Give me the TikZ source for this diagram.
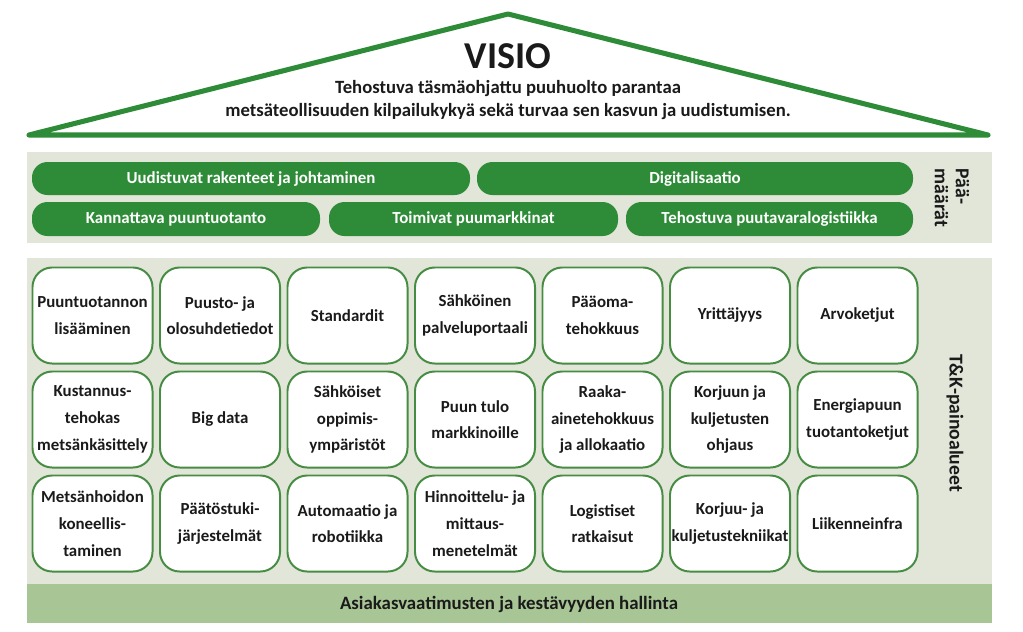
\documentclass[tikz,border=0pt]{standalone}
\usepackage{fontspec}
\setmainfont{Carlito}
\usepackage{tikz}
\usetikzlibrary{positioning}
\definecolor{leafgreen}{RGB}{46,140,56}
\definecolor{boxgreen}{RGB}{70,140,66}
\definecolor{panelgray}{RGB}{225,230,217}
\definecolor{basegreen}{RGB}{168,197,149}
\definecolor{inkdark}{RGB}{26,26,26}

\tikzset{
  goalbar/.style={fill=leafgreen, draw=none, rounded corners=11pt, text=white,
    font=\fontsize{12}{13}\selectfont\bfseries, inner sep=0pt, text height=0.66em, text depth=0pt},
  areabox/.style={fill=white, draw=boxgreen, line width=1.4pt, rounded corners=14pt,
    minimum width=3.0cm, minimum height=2.4cm, inner sep=1pt, align=center,
    text=inkdark, font=\fontsize{12}{19}\selectfont\bfseries},
  sidelabel/.style={rotate=-90, text=inkdark, font=\fontsize{14}{15}\selectfont\bfseries}
}

\begin{document}
\begin{tikzpicture}[x=0.025cm, y=-0.025cm]
\useasboundingbox (0,0) rectangle (1023,631);

% katto
\coordinate (roofL) at (29,135);
\coordinate (apex) at (508,14);
\coordinate (roofR) at (988,135);
\draw[leafgreen, line width=3.6pt, line join=round] (roofL) -- (apex) -- (roofR) -- cycle;
\node[font=\fontsize{27}{30}\selectfont\bfseries, text=inkdark] (visio) at (508,56) {VISIO};
\node[font=\fontsize{13.3}{17}\selectfont\bfseries, text=inkdark, align=center] (vision) at (508,100)
  {Tehostuva täsmäohjattu puuhuolto parantaa\\metsäteollisuuden kilpailukykyä sekä turvaa sen kasvun ja uudistumisen.};

% päämäärät
\fill[panelgray] (27,152) rectangle (992,243);
\node[goalbar, minimum width=438*0.025cm, minimum height=33*0.025cm] (g1) at (251,178.5) {Uudistuvat rakenteet ja johtaminen};
\node[goalbar, minimum width=436*0.025cm, minimum height=33*0.025cm] (g2) at (695,178.5) {Digitalisaatio};
\node[goalbar, minimum width=288*0.025cm, minimum height=34*0.025cm] (g3) at (176,219) {Kannattava puuntuotanto};
\node[goalbar, minimum width=289*0.025cm, minimum height=34*0.025cm] (g4) at (473.5,219) {Toimivat puumarkkinat};
\node[goalbar, minimum width=287*0.025cm, minimum height=34*0.025cm] (g5) at (769.5,219) {Tehostuva puutavaralogistiikka};
\node[sidelabel, align=left] (goals) at (952,198) {Pää-\\määrät};

% T&K-painoalueet
\fill[panelgray] (27,258) rectangle (992,584);
\foreach \c/\t in {1/{Puuntuotannon\\lisääminen}, 2/{Puusto- ja\\olosuhdetiedot}, 3/{Standardit},
                   4/{Sähköinen\\palveluportaali}, 5/{Pääoma-\\tehokkuus}, 6/{Yrittäjyys}, 7/{Arvoketjut}}{
  \pgfmathsetmacro{\x}{92.5+127.5*(\c-1)}
  \node[areabox] (r1c\c) at (\x,315.5) {\t};
}
\foreach \c/\t in {1/{Kustannus-\\tehokas\\metsänkäsittely}, 2/{Big data}, 3/{Sähköiset\\oppimis-\\ympäristöt},
                   4/{Puun tulo\\markkinoille}, 5/{Raaka-\\ainetehokkuus\\ja allokaatio},
                   6/{Korjuun ja\\kuljetusten\\ohjaus}, 7/{Energiapuun\\tuotantoketjut}}{
  \pgfmathsetmacro{\x}{92.5+127.5*(\c-1)}
  \node[areabox] (r2c\c) at (\x,419.5) {\t};
}
\foreach \c/\t in {1/{Metsänhoidon\\koneellis-\\taminen}, 2/{Päätöstuki-\\järjestelmät}, 3/{Automaatio ja\\robotiikka},
                   4/{Hinnoittelu- ja\\mittaus-\\menetelmät}, 5/{Logistiset\\ratkaisut},
                   6/{Korjuu- ja\\kuljetustekniikat}, 7/{Liikenneinfra}}{
  \pgfmathsetmacro{\x}{92.5+127.5*(\c-1)}
  \node[areabox] (r3c\c) at (\x,523.5) {\t};
}
\node[sidelabel] (areas) at (955,423) {T\&K-painoalueet};

% pohja
\fill[basegreen] (27,584) rectangle (992,623);
\node[font=\fontsize{13.4}{15}\selectfont\bfseries, text=inkdark] (base) at (509,604) {Asiakasvaatimusten ja kestävyyden hallinta};
\end{tikzpicture}
\end{document}
